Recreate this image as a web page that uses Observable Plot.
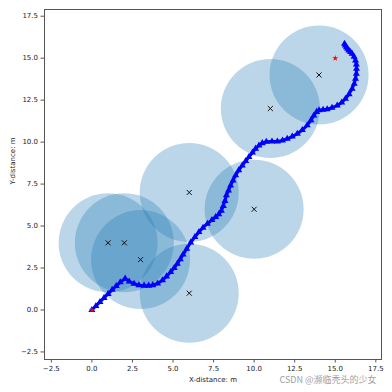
<!DOCTYPE html>
<html>
<head>
<meta charset="utf-8">
<script src="https://cdn.jsdelivr.net/npm/d3@7"></script>
<script src="https://cdn.jsdelivr.net/npm/@observablehq/plot@0.6"></script>
<style>
  html, body { margin: 0; padding: 0; background: white; }
</style>
</head>
<body>
<div id="chart"></div>
<script>
// Obstacle centers and radius
const obsX = [1, 2, 3, 6, 6, 10, 11, 14];
const obsY = [4, 4, 3, 7, 1, 6, 12, 14];
const obsR = [3, 3, 3, 3, 3, 3, 3, 3];

// Planned path
const pathX = [0, 0.25, 0.5, 0.75, 1.0, 1.25, 1.5, 1.75, 2.05,
  2.3, 2.6, 2.9, 3.22, 3.5, 3.75, 4.05, 4.35, 4.6, 4.86, 5.07, 5.27, 5.45, 5.62, 5.85, 6.09, 6.35, 6.6, 6.85, 7.12, 7.4, 7.63, 7.82, 7.98, 8.1, 8.2, 8.29, 8.42, 8.55, 8.7, 8.86, 9.05, 9.27, 9.48, 9.68, 9.9, 10.09, 10.3, 10.5, 10.75, 11.1, 11.43, 11.75, 12.04, 12.35, 12.66, 12.97, 13.27, 13.5, 13.68, 13.85, 14.0, 14.25, 14.5, 14.8, 15.12, 15.4, 15.63, 15.85, 16.04, 16.17, 16.25, 16.3, 16.31, 16.3, 16.25, 16.16, 16.04, 15.94, 15.84, 15.76, 15.69, 15.62, 15.57];
const pathY = [0, 0.24, 0.48, 0.72, 0.96, 1.2, 1.43, 1.65, 1.87,
  1.7, 1.56, 1.48, 1.45, 1.45, 1.48, 1.58, 1.77, 2.0, 2.26, 2.5, 2.76, 3.02, 3.3, 3.65, 4.02, 4.35, 4.64, 4.9, 5.14, 5.36, 5.54, 5.7, 5.92, 6.2, 6.5, 6.83, 7.12, 7.42, 7.72, 8.02, 8.32, 8.61, 8.87, 9.11, 9.38, 9.61, 9.8, 9.94, 10.02, 10.04, 10.04, 10.1, 10.2, 10.33, 10.5, 10.72, 11.0, 11.3, 11.59, 11.8, 11.9, 11.93, 11.96, 12.05, 12.18, 12.36, 12.58, 12.86, 13.18, 13.48, 13.77, 14.07, 14.37, 14.62, 14.86, 15.08, 15.26, 15.37, 15.46, 15.56, 15.65, 15.76, 15.86];

// Start and goal
const startGoalX = [0, 15];
const startGoalY = [0, 15];

const xTicks = [-2.5, 0, 2.5, 5, 7.5, 10, 12.5, 15, 17.5];
const yTicks = [-2.5, 0, 2.5, 5, 7.5, 10, 12.5, 15, 17.5];

const obstacles = obsX.map((x, i) => ({x, y: obsY[i], r: obsR[i]}));
const path = pathX.map((x, i) => ({x, y: pathY[i]}));
const stars = startGoalX.map((x, i) => ({x, y: startGoalY[i]}));

const fmt = d3.format(".1f");

const chart = Plot.plot({
  width: 392,
  height: 392,
  marginLeft: 44,
  marginRight: 11,
  marginTop: 9,
  marginBottom: 33,
  style: {fontFamily: "DejaVu Sans", fontSize: "7px", background: "white", color: "#222"},
  x: {domain: [-2.92, 17.85]},
  y: {domain: [-2.95, 17.9]},
  r: {type: "linear", domain: [0, 3], range: [0, 49.5]},
  marks: [
    Plot.dot(obstacles, {x: "x", y: "y", r: "r", fill: "#1f77b4", fillOpacity: 0.3, stroke: "none"}),
    Plot.dot(obstacles, {x: "x", y: "y", symbol: "times", stroke: "#111", r: 2.4, strokeWidth: 1}),
    Plot.line(path, {x: "x", y: "y", stroke: "#0000ff", strokeWidth: 3}),
    Plot.dot(path, {x: "x", y: "y", symbol: "triangle", fill: "#0000ff", stroke: "none", r: 2.6}),
    Plot.dot(stars, {x: "x", y: "y", symbol: "star", fill: "red", stroke: "none", r: 1.9}),
    Plot.frame({stroke: "#555", strokeWidth: 1}),
    Plot.axisX({ticks: xTicks, tickFormat: fmt, tickSize: 3.5, tickPadding: 3, label: null, stroke: "#555"}),
    Plot.axisY({ticks: yTicks, tickFormat: fmt, tickSize: 3.5, tickPadding: 3, label: null, stroke: "#555"}),
    Plot.text(["X-distance: m"], {frameAnchor: "bottom", dy: 22, text: d => d, fontSize: 7, fill: "#222"}),
    Plot.text(["Y-distance: m"], {frameAnchor: "left", dx: -32, rotate: -90, text: d => d, fontSize: 7, fill: "#222"}),
    Plot.text(["CSDN @濒临秃头的少女"], {frameAnchor: "bottom-right", dx: -5, dy: 23.5, textAnchor: "end", text: d => d, fontSize: 9, fontFamily: "Noto Sans CJK SC", fill: "#a0a0a0"})
  ]
});
document.getElementById("chart").appendChild(chart);
</script>
</body>
</html>
